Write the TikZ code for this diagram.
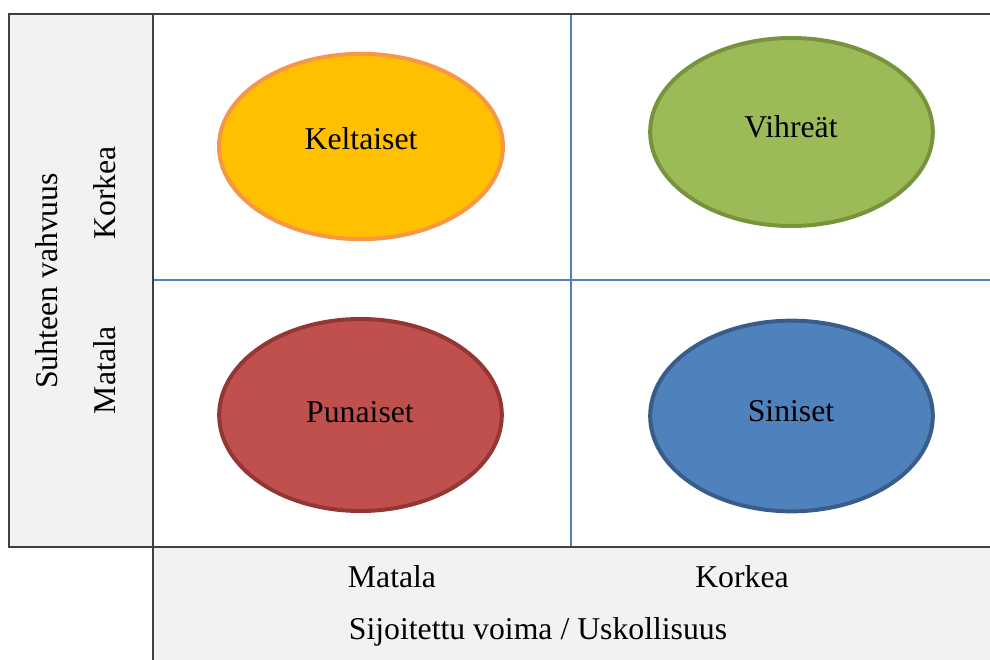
\documentclass[tikz,border=0pt]{standalone}
\usepackage{fontspec}
\setmainfont{Liberation Serif}
\usetikzlibrary{shapes.geometric}
\definecolor{boxgray}{HTML}{F2F2F2}
\definecolor{edgegray}{HTML}{404040}
\definecolor{gridblue}{HTML}{4F81BD}
\definecolor{yfill}{HTML}{FFC000}
\definecolor{yedge}{HTML}{F79646}
\definecolor{gfill}{HTML}{9BBB59}
\definecolor{gedge}{HTML}{77933C}
\definecolor{rfill}{HTML}{C0504D}
\definecolor{redge}{HTML}{943634}
\definecolor{bfill}{HTML}{4F81BD}
\definecolor{bedge}{HTML}{385D8A}
\tikzset{
  blob/.style={ellipse, line width=3pt, inner sep=0pt},
  lbl/.style={font=\fontsize{23.8}{28}\selectfont, inner sep=0pt, anchor=center},
  frame/.style={draw=edgegray, line width=1.2pt},
}
\begin{document}
\begin{tikzpicture}[x=0.75pt,y=-0.75pt]
\useasboundingbox (0,0) rectangle (990,660);
% gray panels
\fill[boxgray] (9,14) rectangle (153,547);
\fill[boxgray] (153,547) rectangle (990,662);
% grid lines
\draw[gridblue, line width=1.6pt] (571,14) -- (571,547);
\draw[gridblue, line width=1.6pt] (153,280) -- (990,280);
% frames
\draw[frame] (153,547) -- (9,547) -- (9,14) -- (990,14);
\draw[frame] (153,14) -- (153,662);
\draw[frame] (153,547) -- (990,547);
% ellipses
\node[blob, fill=yfill, draw=yedge, minimum width=213pt, minimum height=139pt] (kelt) at (361,146.5) {};
\node[blob, fill=gfill, draw=gedge, minimum width=212pt, minimum height=141pt] (vihr) at (791.5,132) {};
\node[blob, fill=rfill, draw=redge, minimum width=212pt, minimum height=144pt] (puna) at (360.5,415) {};
\node[blob, fill=bfill, draw=bedge, minimum width=212pt, minimum height=143pt] (sini) at (791.5,416) {};
\node[lbl] (keltT) at (361,139) {Keltaiset};
\node[lbl] (vihrT) at (791,127) {Vihreät};
\node[lbl] (punaT) at (360,412) {Punaiset};
\node[lbl] (siniT) at (791,411) {Siniset};
% axis labels
\node[lbl, rotate=90] (yaxis) at (47,281) {Suhteen vahvuus};
\node[lbl, rotate=90] (ykork) at (105,193) {Korkea};
\node[lbl, rotate=90] (ymata) at (105,370) {Matala};
\node[lbl] (xmata) at (392,577) {Matala};
\node[lbl] (xkork) at (742,577) {Korkea};
\node[lbl] (xaxis) at (538,632) {Sijoitettu voima / Uskollisuus};
\end{tikzpicture}
\end{document}
